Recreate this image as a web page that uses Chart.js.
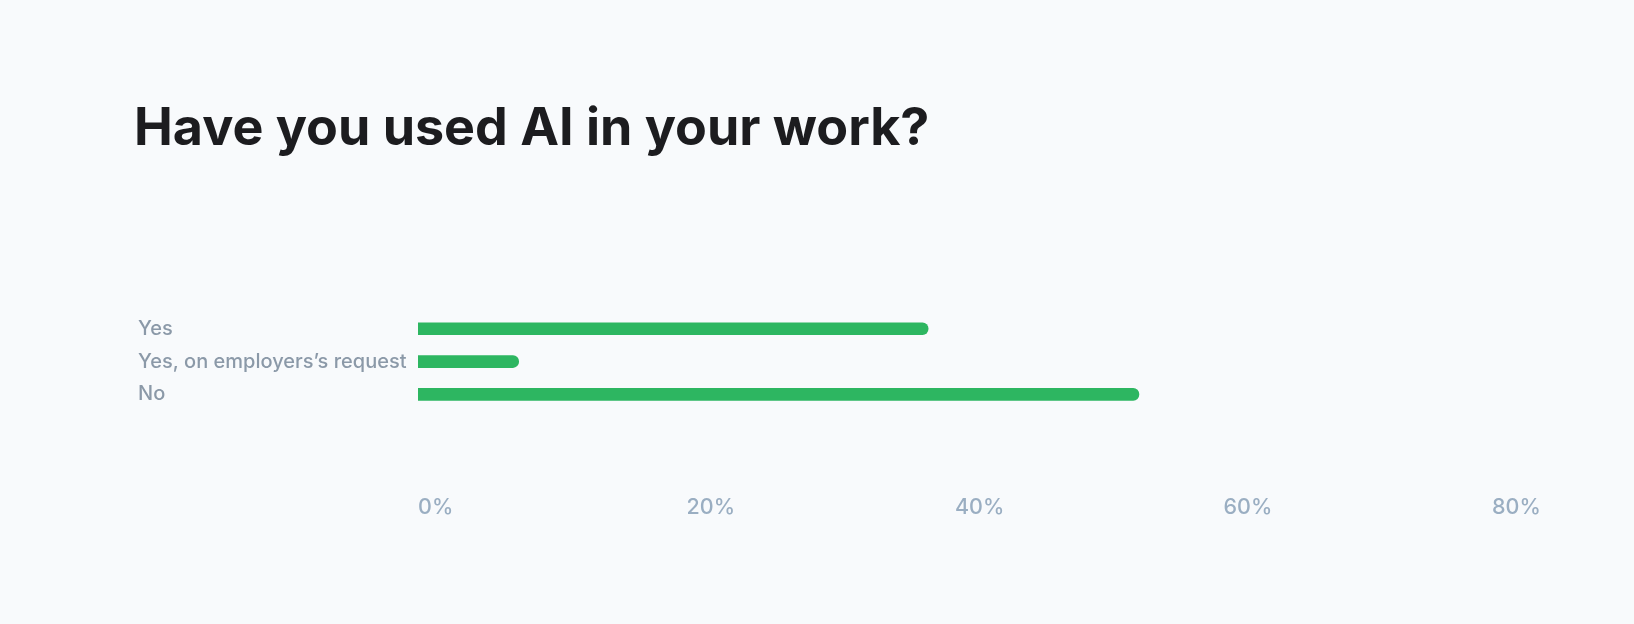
<!DOCTYPE html>
<html>
<head>
<meta charset="utf-8">
<script src="https://cdn.jsdelivr.net/npm/chart.js@4"></script>
<style>
  html, body { margin: 0; padding: 0; background: #F8FAFC; }
  #wrap { width: 1634px; height: 624px; position: relative; }
</style>
</head>
<body>
<div id="wrap"><canvas id="c"></canvas></div>
<script>
const titleText = "Have you used AI in your work?";
const categories = ["Yes", "Yes, on employers\u2019s request", "No"];
const values = [38, 7.5, 53.7];
const tickValues = [0, 20, 40, 60, 80];

const shiftYLabels = {
  id: 'shiftYLabels',
  afterLayout(chart) { chart.scales.y.left += 4; }
};

const ctx = document.getElementById('c');
new Chart(ctx, {
  type: 'bar',
  data: {
    labels: categories,
    datasets: [{
      data: values,
      backgroundColor: '#2DB661',
      borderWidth: 0,
      borderRadius: 6,
      borderSkipped: 'start',
      barThickness: 12
    }]
  },
  plugins: [shiftYLabels],
  options: {
    indexAxis: 'y',
    responsive: true,
    maintainAspectRatio: false,
    animation: false,
    layout: { padding: { left: 134, right: 142, top: 0, bottom: 20.5 } },
    plugins: {
      legend: { display: false },
      tooltip: { enabled: false },
      title: {
        display: true,
        text: titleText,
        align: 'start',
        color: '#1C1C1F',
        font: { family: 'Inter', size: 52, weight: '700', lineHeight: 1.2 },
        padding: { top: 98, bottom: 152 }
      }
    },
    scales: {
      x: {
        type: 'linear',
        min: 0,
        max: 80,
        afterBuildTicks: (scale) => { scale.ticks = tickValues.map(v => ({ value: v })); },
        grid: { display: false, drawTicks: false },
        border: { display: false },
        ticks: {
          align: 'start',
          padding: 83.5,
          color: '#9AAEC2',
          font: { family: 'Inter', size: 21.5, weight: '500' },
          callback: (v) => v + '%'
        }
      },
      y: {
        grid: { display: false, drawTicks: false },
        border: { display: false },
        afterFit: (scale) => { scale.width = 284; },
        ticks: {
          crossAlign: 'far',
          color: '#8B99A8',
          font: { family: 'Inter', size: 20, weight: '500' }
        }
      }
    }
  }
});
</script>
</body>
</html>
